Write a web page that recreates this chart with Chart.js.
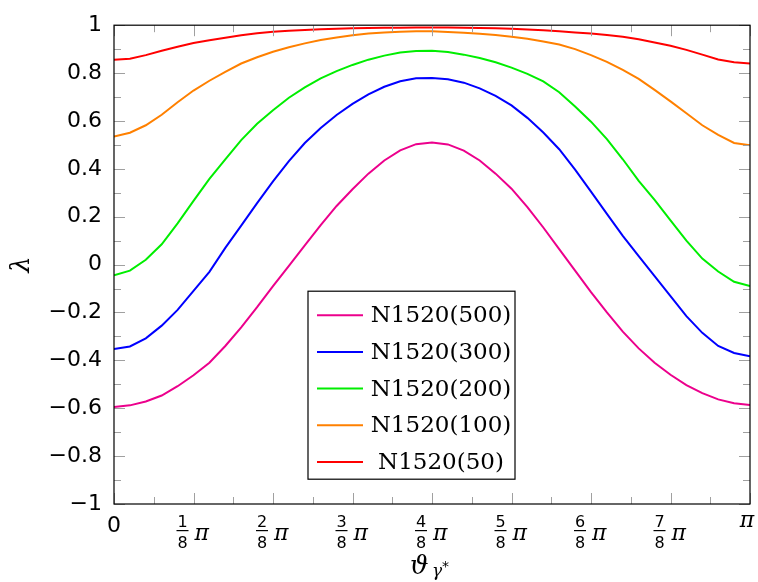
<!DOCTYPE html>
<html>
<head>
<meta charset="utf-8">
<script src="https://cdn.jsdelivr.net/npm/chart.js@4.4.0/dist/chart.umd.min.js"></script>
<style>
  html, body { margin: 0; padding: 0; background: #fff; }
</style>
</head>
<body>
<canvas id="lambdaChart" width="758" height="582"></canvas>
<script>
// theta in units of pi
const theta = [0, 0.025, 0.05, 0.075, 0.1, 0.125, 0.15, 0.175, 0.2, 0.225,
    0.25, 0.275, 0.3, 0.325, 0.35, 0.375, 0.4, 0.425, 0.45, 0.475,
    0.5, 0.525, 0.55, 0.575, 0.6, 0.625, 0.65, 0.675, 0.7, 0.725,
    0.75, 0.775, 0.8, 0.825, 0.85, 0.875, 0.9, 0.925, 0.95, 0.975, 1];

const n500 = [-0.595, -0.588, -0.572, -0.547, -0.508, -0.462, -0.41, -0.34, -0.262, -0.178,
    -0.09, -0.005, 0.08, 0.165, 0.245, 0.315, 0.38, 0.435, 0.477, 0.503,
    0.51, 0.502, 0.476, 0.435, 0.38, 0.317, 0.24, 0.155, 0.065, -0.025,
    -0.115, -0.2, -0.28, -0.35, -0.41, -0.46, -0.503, -0.537, -0.563, -0.579, -0.586];

const n300 = [-0.353, -0.342, -0.308, -0.255, -0.189, -0.11, -0.03, 0.07, 0.163, 0.257,
    0.348, 0.432, 0.508, 0.571, 0.625, 0.671, 0.711, 0.743, 0.766, 0.778,
    0.779, 0.774, 0.76, 0.736, 0.705, 0.665, 0.613, 0.552, 0.482, 0.397,
    0.305, 0.212, 0.12, 0.035, -0.048, -0.132, -0.215, -0.285, -0.34, -0.369, -0.383];

const n200 = [-0.045, -0.025, 0.02, 0.085, 0.172, 0.266, 0.358, 0.44, 0.52, 0.588,
    0.645, 0.697, 0.74, 0.778, 0.808, 0.834, 0.856, 0.873, 0.886, 0.892,
    0.893, 0.888, 0.877, 0.863, 0.845, 0.823, 0.797, 0.765, 0.72, 0.66,
    0.597, 0.524, 0.44, 0.35, 0.27, 0.185, 0.10, 0.025, -0.029, -0.072, -0.09];

const n100 = [0.535, 0.551, 0.582, 0.626, 0.678, 0.727, 0.768, 0.805, 0.84, 0.866,
    0.889, 0.908, 0.924, 0.938, 0.949, 0.958, 0.965, 0.97, 0.973, 0.975,
    0.975, 0.972, 0.968, 0.964, 0.959, 0.952, 0.943, 0.932, 0.919, 0.9,
    0.875, 0.847, 0.813, 0.776, 0.73, 0.682, 0.632, 0.582, 0.542, 0.508, 0.498];

const n50 = [0.856, 0.86, 0.875, 0.893, 0.91, 0.926, 0.937, 0.948, 0.958, 0.966,
    0.973, 0.977, 0.98, 0.983, 0.985, 0.987, 0.988, 0.989, 0.989, 0.99,
    0.99, 0.99, 0.989, 0.988, 0.987, 0.985, 0.982, 0.979, 0.975, 0.97,
    0.965, 0.959, 0.952, 0.941, 0.928, 0.914, 0.897, 0.877, 0.857, 0.845, 0.84];

const seriesLabels = ['N1520(500)', 'N1520(300)', 'N1520(200)', 'N1520(100)', 'N1520(50)'];
const seriesColors = ['#ec008c', '#0000ff', '#00ee00', '#ff8000', '#ff0000'];
const seriesValues = [n500, n300, n200, n100, n50];

// x ticks in eighths of pi, minor ticks in sixteenths
const xTickEighths = [0, 1, 2, 3, 4, 5, 6, 7, 8];

const tickGrey = '#a0a0a0';

const axesPlugin = {
    id: 'axesPlugin',
    afterDraw(chart) {
        const ctx = chart.ctx;
        const ca = chart.chartArea;
        const xs = chart.scales.x;
        const ys = chart.scales.y;
        ctx.save();

        // inward ticks on all four sides
        ctx.strokeStyle = tickGrey;
        ctx.lineWidth = 1;
        ctx.beginPath();
        for (let k = 0; k <= 20; k++) {
            const v = -1 + k * 0.1;
            const py = Math.round(ys.getPixelForValue(v)) + 0.5;
            const len = k % 2 === 0 ? 11 : 7;
            ctx.moveTo(ca.left, py); ctx.lineTo(ca.left + len, py);
            ctx.moveTo(ca.right, py); ctx.lineTo(ca.right - len, py);
        }
        for (let k = 0; k <= 16; k++) {
            const px = Math.round(xs.getPixelForValue(k / 16)) + 0.5;
            const len = k % 2 === 0 ? 11 : 7;
            ctx.moveTo(px, ca.bottom); ctx.lineTo(px, ca.bottom - len);
            ctx.moveTo(px, ca.top); ctx.lineTo(px, ca.top + len);
        }
        ctx.stroke();

        // frame
        ctx.strokeStyle = '#000';
        ctx.lineWidth = 1.2;
        ctx.strokeRect(ca.left, ca.top, ca.right - ca.left, ca.bottom - ca.top);

        // x tick labels
        ctx.fillStyle = '#000';
        xTickEighths.forEach(k => {
            const cx = xs.getPixelForValue(k / 8);
            if (k === 0) {
                ctx.font = '22px "DejaVu Sans"';
                ctx.textAlign = 'center';
                ctx.textBaseline = 'alphabetic';
                ctx.fillText('0', cx, ca.bottom + 28);
            } else if (k === 8) {
                ctx.font = 'italic 22px "DejaVu Serif"';
                ctx.textAlign = 'center';
                ctx.textBaseline = 'alphabetic';
                ctx.fillText('π', cx - 3, ca.bottom + 23);
            } else {
                const fx = cx - 11;
                ctx.font = '16px "DejaVu Sans"';
                ctx.textAlign = 'center';
                ctx.textBaseline = 'alphabetic';
                ctx.fillText(String(k), fx, ca.bottom + 23);
                ctx.fillText('8', fx, ca.bottom + 44);
                ctx.fillRect(fx - 6, ca.bottom + 26, 12, 1.2);
                ctx.font = 'italic 22px "DejaVu Serif"';
                ctx.textAlign = 'left';
                ctx.fillText('π', cx + 1, ca.bottom + 36);
            }
        });

        // x axis title
        const mid = (ca.left + ca.right) / 2;
        ctx.textAlign = 'left';
        ctx.font = 'italic 26px "DejaVu Serif"';
        ctx.fillText('ϑ', mid - 22, ca.bottom + 70);
        ctx.font = 'italic 17px "DejaVu Serif"';
        ctx.fillText('γ', mid, ca.bottom + 72);
        ctx.font = '14px "DejaVu Sans"';
        ctx.fillText('*', mid + 10, ca.bottom + 67);

        // y axis title
        ctx.save();
        ctx.translate(22, (ca.top + ca.bottom) / 2);
        ctx.rotate(-Math.PI / 2);
        ctx.font = 'italic 26px "DejaVu Serif"';
        ctx.textAlign = 'center';
        ctx.textBaseline = 'middle';
        ctx.fillText('λ', 0, 0);
        ctx.restore();

        // legend box inside the plot
        const lx = ca.left + 194, ly = ca.top + 266, lw = 207, lh = 188;
        ctx.fillStyle = '#fff';
        ctx.fillRect(lx, ly, lw, lh);
        ctx.strokeStyle = '#000';
        ctx.lineWidth = 1.2;
        ctx.strokeRect(lx, ly, lw, lh);
        chart.data.datasets.forEach((ds, i) => {
            const ry = ly + 24 + i * 36.7;
            ctx.strokeStyle = ds.borderColor;
            ctx.lineWidth = 2;
            ctx.beginPath();
            ctx.moveTo(lx + 9, ry);
            ctx.lineTo(lx + 55, ry);
            ctx.stroke();
            ctx.fillStyle = '#000';
            ctx.font = '23px "DejaVu Serif"';
            ctx.textAlign = 'center';
            ctx.textBaseline = 'middle';
            ctx.fillText(ds.label, lx + 133, ry + 1);
        });

        ctx.restore();
    }
};

new Chart(document.getElementById('lambdaChart').getContext('2d'), {
    type: 'line',
    data: {
        datasets: seriesValues.map((vals, i) => ({
            label: seriesLabels[i],
            data: theta.map((t, j) => ({ x: t, y: vals[j] })),
            borderColor: seriesColors[i],
            backgroundColor: seriesColors[i],
            borderWidth: 2,
            pointRadius: 0,
            tension: 0,
            fill: false
        }))
    },
    options: {
        responsive: false,
        animation: false,
        layout: { padding: { left: 0, top: 18, right: 8, bottom: 0 } },
        plugins: {
            legend: { display: false },
            tooltip: { enabled: false }
        },
        scales: {
            x: {
                type: 'linear',
                min: 0,
                max: 1,
                grid: { display: false, drawTicks: false },
                border: { display: false },
                ticks: { display: false },
                afterFit(scale) { scale.height = 78; }
            },
            y: {
                min: -1,
                max: 1,
                grid: { display: false, drawTicks: false },
                border: { display: false },
                ticks: {
                    stepSize: 0.2,
                    padding: 12,
                    color: '#000',
                    font: { family: 'DejaVu Sans', size: 22 },
                    callback(value) {
                        if (Math.abs(value) < 1e-9) return '0';
                        const s = Math.abs(value - Math.round(value)) < 1e-9
                            ? String(Math.round(value)) : value.toFixed(1);
                        return s.replace('-', '\u2212');
                    }
                },
                afterFit(scale) { scale.width = 114; }
            }
        }
    },
    plugins: [axesPlugin]
});
</script>
</body>
</html>
